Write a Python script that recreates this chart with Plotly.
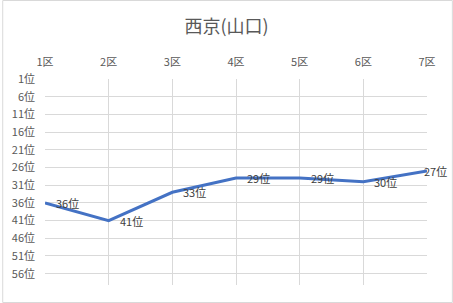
import plotly.graph_objects as go

categories = ["1区", "2区", "3区", "4区", "5区", "6区", "7区"]
ranks = [36, 41, 33, 29, 29, 30, 27]
ytick_vals = [1, 6, 11, 16, 21, 26, 31, 36, 41, 46, 51, 56]
ytick_text = [f"{v}位" for v in ytick_vals]
labels = [f"{v}位" for v in ranks]

W, H = 453, 303
L, R, T, B = 43, 26, 79, 18
pw, ph = W - L - R, H - T - B

fnt = "Noto Sans CJK JP, sans-serif"
xs = list(range(len(categories)))
fig = go.Figure()
fig.add_trace(go.Scatter(
    x=xs, y=ranks, mode="lines",
    line=dict(color="#4472C4", width=3),
    cliponaxis=False, hoverinfo="skip",
))
annotations = []
for i, (x, y, t) in enumerate(zip(xs, ranks, labels)):
    last = i == len(xs) - 1
    annotations.append(dict(
        x=x, y=y, xref="x", yref="y", text=t, showarrow=False,
        xanchor="left", yanchor="middle", xshift=-5 if last else 9,
        font=dict(size=11, color="#404040", family=fnt),
    ))
fig.update_layout(
    width=W, height=H,
    margin=dict(l=L, r=R, t=T, b=B),
    paper_bgcolor="white", plot_bgcolor="white",
    showlegend=False,
    font=dict(family=fnt, color="#595959", size=11),
    title=dict(text="西京(山口)", x=0.5, xanchor="center", y=1 - 27 / H, yanchor="middle",
               font=dict(size=18, color="#595959", family=fnt)),
    xaxis=dict(
        side="top", range=[0, len(categories) - 1],
        tickvals=xs, ticktext=categories,
        showgrid=True, gridcolor="#d9d9d9", gridwidth=1,
        showline=False, zeroline=False, ticks="", ticklabelstandoff=10,
        tickfont=dict(size=11, color="#595959"),
    ),
    yaxis=dict(
        range=[59.2, 1], tickvals=ytick_vals, ticktext=ytick_text,
        showgrid=True, gridcolor="#d9d9d9", gridwidth=1,
        showline=False, zeroline=False, ticks="", ticklabelstandoff=9,
        tickfont=dict(size=11, color="#595959"),
    ),
    annotations=annotations,
    shapes=[dict(type="rect", xref="paper", yref="paper",
                 x0=(0.5 - L) / pw, x1=(W - 0.5 - L) / pw,
                 y0=-(B - 0.5) / ph, y1=1 + (T - 0.5) / ph,
                 line=dict(color="#d9d9d9", width=1), layer="below")],
)
fig.write_html("out.html")
